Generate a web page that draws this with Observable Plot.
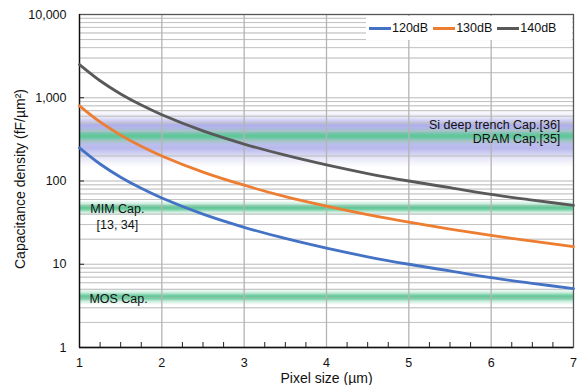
<!DOCTYPE html>
<html>
<head>
<meta charset="utf-8">
<script src="https://cdn.jsdelivr.net/npm/d3@7"></script>
<script src="https://cdn.jsdelivr.net/npm/@observablehq/plot@0.6"></script>
<style>
  body { margin: 0; background: #fff; font-family: "Liberation Sans", Arial, sans-serif; }
  #wrap { position: relative; width: 580px; height: 385px; }
  #legend { position: absolute; left: 366px; top: 16px; width: 206px; height: 24px; background: #fff;
            display: flex; align-items: center; font-size: 12.5px; color: #111; padding-left: 3px; box-sizing: border-box; }
  .item { display: flex; align-items: center; margin-right: 5px; }
  .sw { width: 22px; height: 3px; margin-right: 1px; }
</style>
</head>
<body>
<div id="wrap"><div id="legend"></div></div>
<script>
// ---- data ----
const xDomain = [1, 7];
const yDomain = [1, 10000];
const pixelSize = [1, 1.25, 1.5, 1.75, 2, 2.5, 3, 3.5, 4, 4.5, 5, 5.5, 6, 6.5, 7];
const series = ["120dB", "130dB", "140dB"];
const colors = ["#4472c4", "#ed7d31", "#595959"];
const v120 = [250, 160, 111, 81.6, 62.5, 40, 27.8, 20.4, 15.6, 12.3, 10, 8.3, 6.9, 5.9, 5.1];
const v130 = [800, 512, 356, 261, 200, 128, 89, 65, 50, 39.5, 32, 26.4, 22.2, 18.9, 16.3];
const v140 = [2500, 1600, 1111, 816, 625, 400, 278, 204, 156, 123, 100, 83, 69, 59, 51];
const xTicks = [1, 2, 3, 4, 5, 6, 7];
const yTicks = [1, 10, 100, 1000, 10000];
const yTickLabels = ["1", "10", "100", "1,000", "10,000"];
const yGrid = [2,3,4,5,6,7,8,9,10,20,30,40,50,60,70,80,90,100,200,300,400,500,600,700,800,900,1000,2000,3000,4000,5000,6000,7000,8000,9000];
const xMinor = [1.25,1.5,1.75,2.25,2.5,2.75,3.25,3.5,3.75,4.25,4.5,4.75,5.25,5.5,5.75,6.25,6.5,6.75];
// bands
const blueBandLow = [145], blueBandHigh = [700];
const greenBandNames = ["DRAM", "MIM", "MOS"];
const greenBandLow = [267, 38, 3.2];
const greenBandHigh = [439, 58, 5.0];
// band labels
const labelText = ["Si deep trench Cap.[36]", "DRAM Cap.[35]", "MIM Cap.\n[13, 34]", "MOS Cap."];
const labelX = [6.84, 6.84, 1.46, 1.12];
const labelY = [492, 334, 37.6, 3.9];
const labelAnchor = ["end", "end", "middle", "start"];

// ---- tables ----
const lines = [];
[v120, v130, v140].forEach((vals, s) => vals.forEach((v, i) => lines.push({x: pixelSize[i], y: v, s: series[s]})));
const blueBands = blueBandLow.map((lo, i) => ({lo, hi: blueBandHigh[i]}));
const greenBands = greenBandNames.map((n, i) => ({n, lo: greenBandLow[i], hi: greenBandHigh[i]}));
const labels = labelText.map((t, i) => ({t, x: labelX[i], y: labelY[i], a: labelAnchor[i]}));
const yTickRows = yTicks.map((v, i) => ({v, t: yTickLabels[i]}));

const defs = () => {
  const d = d3.create("svg:defs");
  const g1 = d.append("linearGradient").attr("id", "gGreen").attr("x1", 0).attr("y1", 0).attr("x2", 0).attr("y2", 1);
  [[0, 0], [0.22, 0.3], [0.4, 0.85], [0.5, 1], [0.6, 0.85], [0.78, 0.3], [1, 0]].forEach(([o, a]) =>
    g1.append("stop").attr("offset", o).attr("stop-color", "#5cc795").attr("stop-opacity", a));
  const g2 = d.append("linearGradient").attr("id", "gBlue").attr("x1", 0).attr("y1", 0).attr("x2", 0).attr("y2", 1);
  [[0, 0], [0.12, 0.22], [0.26, 0.8], [0.46, 0.55], [0.67, 0.7], [0.85, 0.22], [1, 0]].forEach(([o, a]) =>
    g2.append("stop").attr("offset", o).attr("stop-color", "#9a9ae4").attr("stop-opacity", a));
  return d.node();
};

const textMarks = ["start", "middle", "end"].map(a =>
  Plot.text(labels.filter(d => d.a === a), {x: "x", y: "y", text: "t", textAnchor: a, fill: "#111", fontSize: 12.5, lineHeight: 1.28}));

const plot = Plot.plot({
  width: 580, height: 385,
  marginLeft: 79, marginRight: 7, marginTop: 14, marginBottom: 38,
  style: {fontFamily: "Liberation Sans, Arial, sans-serif", fontSize: "13px", color: "#111"},
  x: {domain: xDomain},
  y: {type: "log", domain: yDomain},
  color: {domain: series, range: colors},
  axis: null,
  marks: [
    defs,
    Plot.rect(blueBands, {x1: xDomain[0], x2: xDomain[1], y1: "lo", y2: "hi", fill: "url(#gBlue)"}),
    Plot.ruleY(yGrid, {stroke: "#c4c4c4", strokeWidth: 1}),
    Plot.rect(greenBands, {x1: xDomain[0], x2: xDomain[1], y1: "lo", y2: "hi", fill: "url(#gGreen)"}),
    Plot.ruleY(yGrid, {stroke: "#c4c4c4", strokeWidth: 1, strokeOpacity: 0.45}),
    Plot.ruleX(xTicks.slice(1, -1), {stroke: "#b4b4b4", strokeWidth: 1.3}),
    Plot.ruleX(xMinor, {stroke: "#222", insetTop: 328}),
    Plot.ruleY(yTicks, {stroke: "#222", insetRight: 489}),
    Plot.frame({stroke: "#555", strokeWidth: 1.3}),
    Plot.ruleY([yDomain[0]], {stroke: "#111", strokeWidth: 1.3}),
    Plot.ruleX([xDomain[0]], {stroke: "#111", strokeWidth: 1.3}),
    Plot.line(lines, {x: "x", y: "y", z: "s", stroke: "s", strokeWidth: 2.8, curve: "catmull-rom"}),
    ...textMarks,
    Plot.text(xTicks, {x: d => d, text: d => String(d), frameAnchor: "bottom", lineAnchor: "middle", dy: 15, fontSize: 12.5, fill: "#111"}),
    Plot.text(yTickRows, {y: "v", text: "t", frameAnchor: "left", textAnchor: "end", lineAnchor: "middle", dx: -13, fontSize: 12.5, fill: "#111"}),
    Plot.text(["Pixel size (µm)"], {frameAnchor: "bottom", lineAnchor: "middle", dy: 31, fontSize: 14, fill: "#111"}),
    Plot.text(["Capacitance density (fF/µm²)"], {frameAnchor: "left", textAnchor: "middle", dx: -59, dy: -2, rotate: -90, fontSize: 14, fill: "#111"})
  ]
});
document.getElementById("wrap").prepend(plot);

const legend = document.getElementById("legend");
series.forEach((s, i) => {
  const it = document.createElement("div");
  it.className = "item";
  it.innerHTML = `<div class="sw" style="background:${colors[i]}"></div><span>${s}</span>`;
  legend.appendChild(it);
});
</script>
</body>
</html>
